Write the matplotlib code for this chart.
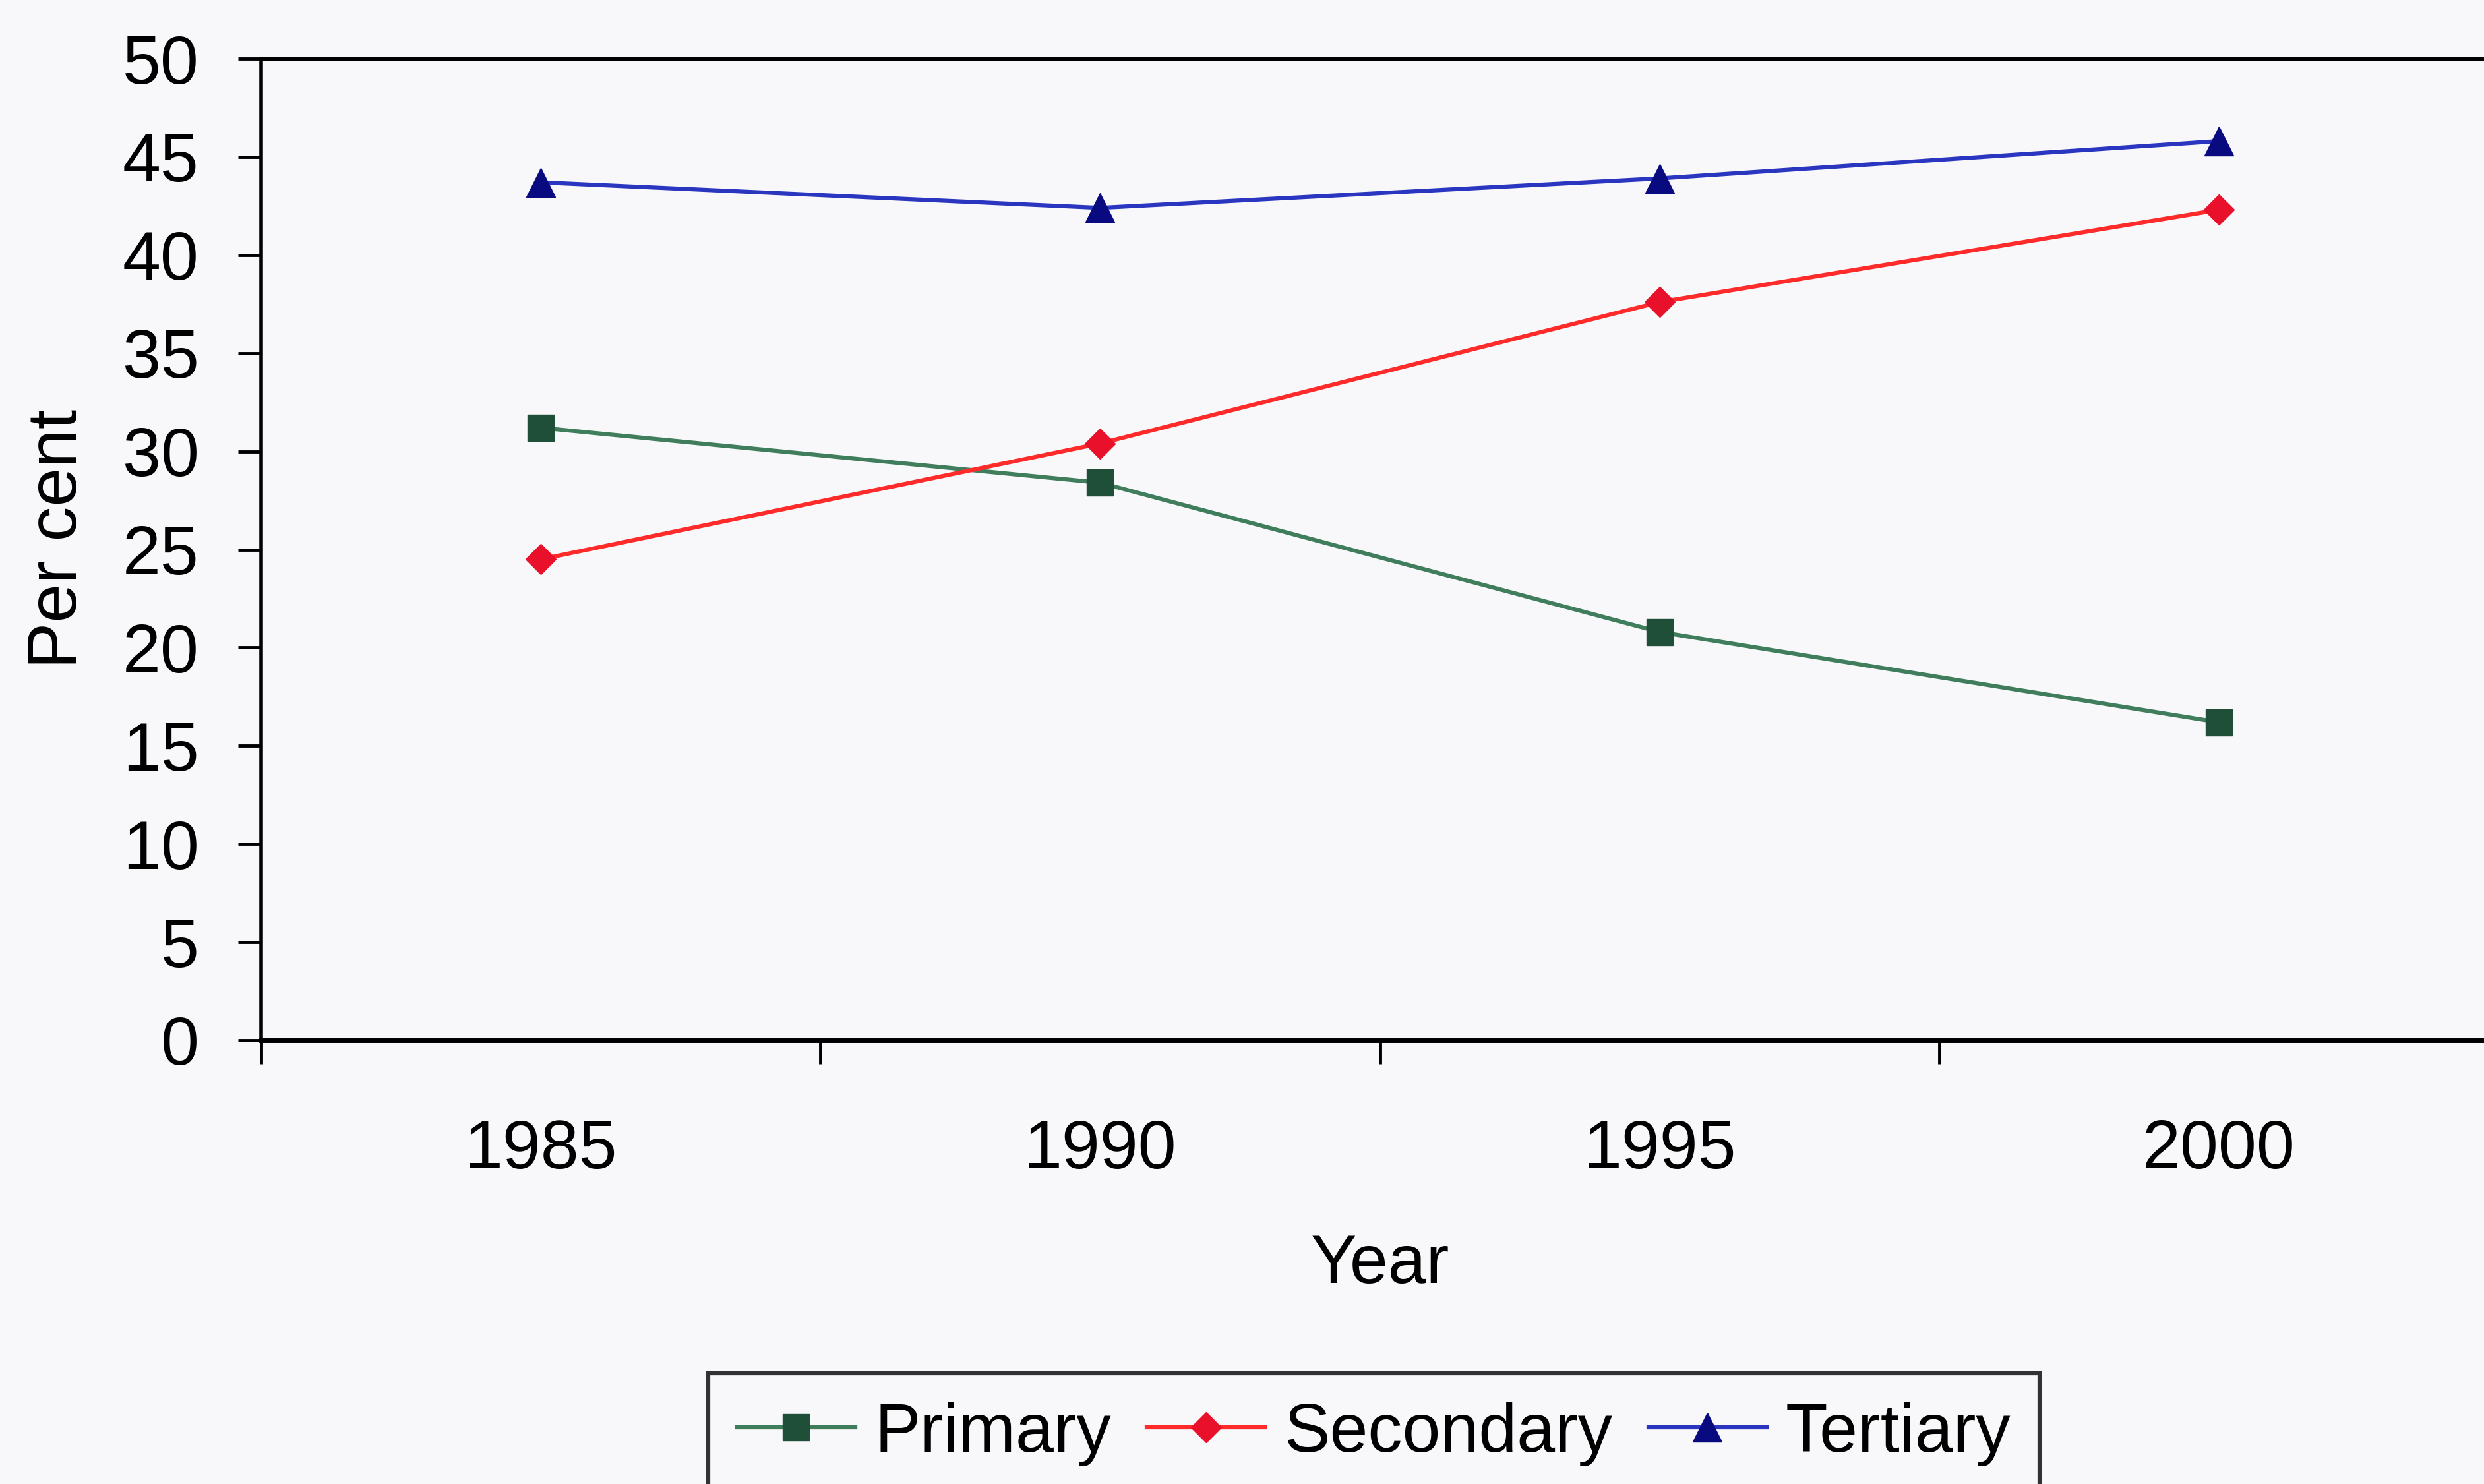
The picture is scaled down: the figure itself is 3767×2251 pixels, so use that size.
import matplotlib
matplotlib.use("Agg")
import matplotlib.pyplot as plt
from matplotlib.ticker import FixedLocator, NullFormatter

# Employment share by sector, per cent
years = ["1985", "1990", "1995", "2000"]
primary = [31.2, 28.4, 20.8, 16.2]
secondary = [24.5, 30.4, 37.6, 42.3]
tertiary = [43.7, 42.4, 43.9, 45.8]
y_ticks = [0, 5, 10, 15, 20, 25, 30, 35, 40, 45, 50]

plt.rcParams["font.family"] = ["Liberation Sans", "DejaVu Sans"]

W, H, DPI = 3767, 2251, 100
bg = "#f8f8fa"
fig = plt.figure(figsize=(W / DPI, H / DPI), dpi=DPI, facecolor=bg)

# plot area: left edge at 396 px, top at 89 px, bottom at 1578 px; runs past the right edge
left, right, top, bottom = 396, 3789, 89, 1578
ax = fig.add_axes([left / W, 1 - bottom / H, (right - left) / W, (bottom - top) / H])
ax.set_facecolor(bg)

x = list(range(len(years)))
series = [
    ("Primary", primary, "#3f7d5c", "#1f4f38", "s", 29),
    ("Secondary", secondary, "#ff2a2a", "#e8102a", "D", 23),
    ("Tertiary", tertiary, "#2a35c0", "#0a0a80", "^", 31),
]
for name, vals, lc, mc, mk, ms in series:
    ax.plot(x, vals, color=lc, lw=4.5, marker=mk, markersize=ms,
            markerfacecolor=mc, markeredgecolor=mc, markeredgewidth=1, label=name,
            clip_on=False)

ax.set_xlim(-0.5, len(years) - 0.5)
ax.set_ylim(0, 50)

# category axis: tick marks between categories, labels centred on categories
ax.xaxis.set_major_locator(FixedLocator([i - 0.5 for i in range(len(years) + 1)]))
ax.xaxis.set_major_formatter(NullFormatter())
ax.xaxis.set_minor_locator(FixedLocator(x))
ax.set_xticks(x, years, minor=True)
ax.tick_params(axis="x", which="major", direction="out", length=26, width=3.5, color="black")
ax.tick_params(axis="x", which="minor", length=0, pad=86, labelsize=75)

ax.set_yticks(y_ticks)
ax.tick_params(axis="y", which="major", direction="out", length=25, width=3.5,
               pad=43, labelsize=75, color="black")

for side in ("top", "bottom"):
    ax.spines[side].set_linewidth(5)
ax.spines["left"].set_linewidth(4)
ax.spines["right"].set_visible(False)
for s in ax.spines.values():
    s.set_color("black")

ax.set_ylabel("Per cent", fontsize=76)
ax.yaxis.set_label_coords(-0.076, 0.511)
ax.set_xlabel("Year", fontsize=75)
ax.xaxis.set_label_coords(0.5, -0.197)

leg = fig.legend(loc="upper left", bbox_to_anchor=(1074 / W, 1 - 2083 / H),
                 ncol=3, fontsize=75, frameon=True, fancybox=False,
                 handlelength=1.72, handletextpad=0.28, columnspacing=0.52,
                 borderpad=0.42, borderaxespad=0)
leg.get_frame().set_edgecolor("black")
leg.get_frame().set_linewidth(4.5)
leg.get_frame().set_facecolor(bg)

fig.savefig("out.png", dpi=DPI, facecolor=bg)
